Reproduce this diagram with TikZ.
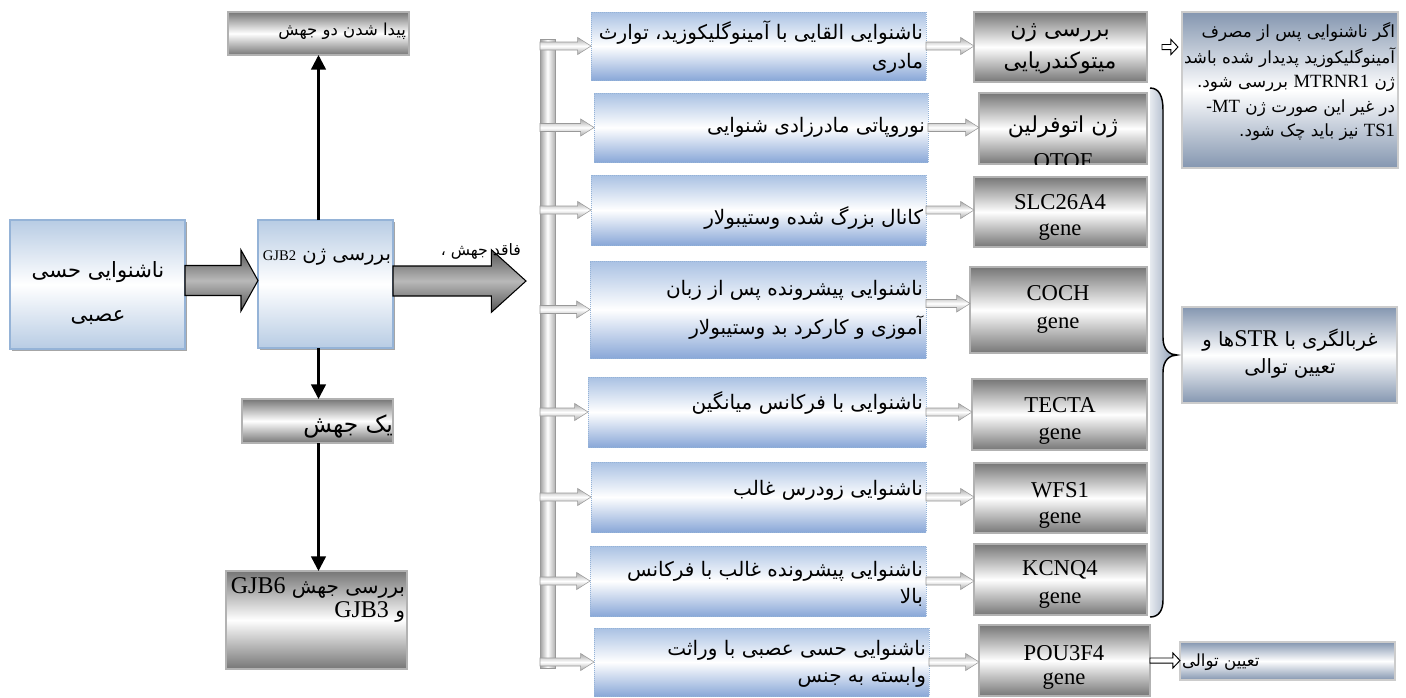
\documentclass[tikz,border=0pt]{standalone}
\usepackage{fontspec}
\setmainfont{Liberation Serif}
\newfontfamily\fa[Script=Arabic]{DejaVu Sans}
\TeXXeTstate=1
\usetikzlibrary{arrows.meta,calc,shadows}
\definecolor{lblue}{HTML}{B8CCE4}
\definecolor{mblue}{HTML}{95B3D7}
\definecolor{midtop}{HTML}{A9C1E3}
\definecolor{midbot}{HTML}{8AA8D8}
\definecolor{dgray}{HTML}{767676}
\definecolor{slate}{HTML}{8496B0}
\definecolor{agray}{HTML}{A6A6A6}
\definecolor{fgray}{HTML}{555555}
\newcommand\fz[1]{\fontsize{#1}{#1}\selectfont}
\newcommand\RR[1]{\beginR #1\endR}
\newcommand\LL[1]{\beginL{\rmfamily #1}\endL{}}
\newcommand\mkbox[6]{\node[#1, minimum width={(#5-#3)*0.75pt}, minimum height={(#6-#4)*0.75pt}] (#2) at ({(#3+#5)/2},{(#4+#6)/2}) {};}
\tikzset{
  base/.style={inner sep=0pt, outer sep=0pt},
  bluebox/.style={base, draw=mblue, line width=0.8pt, top color=lblue, bottom color=lblue, middle color=white,
     drop shadow={shadow xshift=1.5pt, shadow yshift=-1.5pt, fill=gray!70, opacity=1}},
  midbox/.style={base, draw=mblue, densely dotted, line width=0.5pt, top color=midtop, bottom color=midbot, middle color=white},
  graybox/.style={base, draw=gray!60, line width=0.8pt, top color=dgray, bottom color=dgray, middle color=white},
  slatebox/.style={base, draw=gray!40, line width=0.8pt, top color=slate, bottom color=slate, middle color=white},
  busbar/.style={base, draw=gray!80, line width=0.4pt, left color=gray!75, right color=gray!60, middle color=white},
  blk/.style n args={3}{to path={let \p1=(\tikztostart), \p2=(\tikztotarget) in
     (\x1,{\y1+#1}) -- ({\x2-#3},{\y1+#1}) -- ({\x2-#3},{\y1+#2}) -- (\x2,\y1) -- ({\x2-#3},{\y1-#2}) -- ({\x2-#3},{\y1-#1}) -- (\x1,{\y1-#1}) -- cycle}},
  fatarrow/.style={draw=black, line width=0.8pt, top color=fgray, bottom color=fgray, middle color=gray!55},
  smallarrow/.style={blk={3pt}{6.4pt}{10pt}, draw=gray!80, line width=0.4pt, top color=agray, bottom color=agray, middle color=white},
  hollow/.style={blk={1.9pt}{5.6pt}{5.3pt}, draw=black, line width=0.7pt, fill=white},
  blackarrow/.style={line width=1.8pt, -{Triangle[length=11pt,width=11pt]}},
  txt/.style={base, text=black},
  mtxt/.style={txt, anchor=east, font=\fa\fz{15}},
  gtxt/.style={txt, font=\fa\fz{16.5}},
  ltxt/.style={txt, font=\rmfamily\fz{17}},
}
\begin{document}
\begin{tikzpicture}[x=0.75pt, y=-0.75pt]
\useasboundingbox (0,0) rectangle (1406,697);

% left part
\mkbox{graybox}{top}{228}{12}{409}{55}
\mkbox{bluebox}{left}{10}{220}{185}{349}
\mkbox{bluebox}{gjb}{258}{220}{393}{348}
\mkbox{graybox}{yek}{242}{399}{393}{443}
\mkbox{graybox}{last}{226}{571}{407}{669}

\node[txt, anchor=east, font=\fa\fz{12.4}] (ttop) at (406,31) {\RR{پیدا شدن دو جهش}};
\node[txt, font=\fa\fz{15.8}] (tleft1) at (98,272) {\RR{ناشنوایی حسی}};
\node[txt, font=\fa\fz{15.8}] (tleft2) at (98,318) {\RR{عصبی}};
\node[txt, anchor=east, font=\fa\fz{14.7}] (tgjb) at (391,257) {\RR{بررسی ژن \LL{\fz{11}GJB2}}};
\node[txt, anchor=east, font=\fa\fz{17.5}] (tyek) at (393,426) {\RR{یک جهش}};
\node[txt, anchor=east, font=\fa\fz{15}] (tlast1) at (405,588) {\RR{بررسی جهش \LL{\fz{18}GJB6}}};
\node[txt, anchor=east, font=\fa\fz{15}] (tlast2) at (405,612) {\RR{و \LL{\fz{18}GJB3}}};

\coordinate (fatend) at (526,281);
\path[fatarrow, blk={11.25pt}{22.9pt}{12.75pt}] ($(left.east)+(0,-4)$) to (gjb.west);
\path[fatarrow, blk={11.25pt}{23.5pt}{26pt}] ($(gjb.east)+(0,-3)$) to (fatend);
\node[txt, anchor=east, font=\fa\fz{11.8}] (tfaqed) at (521,251) {\RR{فاقد جهش ،}};

\draw[blackarrow] (top.south |- gjb.north) -- (top.south);
\draw[blackarrow] (top.south |- gjb.south) -- (top.south |- yek.north);
\draw[blackarrow] (top.south |- yek.south) -- (top.south |- last.north);

% bus
\mkbox{busbar}{bus}{540}{39}{555}{668}

% middle boxes
\mkbox{midbox}{m1}{591}{12}{926}{80}
\mkbox{midbox}{m2}{594}{93}{928}{162}
\mkbox{midbox}{m3}{591}{175}{926}{245}
\mkbox{midbox}{m4}{590}{261}{926}{358}
\mkbox{midbox}{m5}{588}{377}{926}{447}
\mkbox{midbox}{m6}{591}{462}{926}{532}
\mkbox{midbox}{m7}{590}{546}{926}{616}
\mkbox{midbox}{m8}{594}{628}{929}{696}

\foreach \m in {m1,m2,m3,m4,m5,m6,m7,m8}{
  \path[smallarrow] (bus.west |- \m.west) to (\m.west);
}

% gene boxes
\mkbox{graybox}{g1}{974}{12}{1147}{82}
\mkbox{graybox}{g2}{979}{93}{1147}{164}
\mkbox{graybox}{g3}{974}{177}{1147}{247}
\mkbox{graybox}{g4}{970}{267}{1147}{353}
\mkbox{graybox}{g5}{972}{379}{1147}{450}
\mkbox{graybox}{g6}{974}{463}{1147}{533}
\mkbox{graybox}{g7}{974}{544}{1147}{615}
\mkbox{graybox}{g8}{979}{625}{1150}{696}

\path[smallarrow] (m1.east) to (g1.west);
\path[smallarrow] (m2.east) to (g2.west);
\path[smallarrow] (m3.east) to (g3.west);
\path[smallarrow] ($(m4.east)+(0,-6)$) to (g4.west);
\path[smallarrow] (m5.east) to (g5.west);
\path[smallarrow] (m6.east) to (g6.west);
\path[smallarrow] (m7.east) to (g7.west);
\path[smallarrow] (m8.east) to (g8.west);

% middle texts
\node[mtxt] (tm1a) at (923,33) {\RR{ناشنوایی القایی با آمینوگلیکوزید، توارث}};
\node[mtxt] (tm1b) at (923,63) {\RR{مادری}};
\node[mtxt] (tm2) at (925,127) {\RR{نوروپاتی مادرزادی شنوایی}};
\node[mtxt] (tm3) at (923,218) {\RR{کانال بزرگ شده وستیبولار}};
\node[mtxt] (tm4a) at (923,290) {\RR{ناشنوایی پیشرونده پس از زبان}};
\node[mtxt] (tm4b) at (923,328) {\RR{آموزی و کارکرد بد وستیبولار}};
\node[mtxt] (tm5) at (923,403) {\RR{ناشنوایی با فرکانس میانگین}};
\node[mtxt] (tm6) at (923,490) {\RR{ناشنوایی زودرس غالب}};
\node[mtxt] (tm7a) at (923,571) {\RR{ناشنوایی پیشرونده غالب با فرکانس}};
\node[mtxt] (tm7b) at (923,597) {\RR{بالا}};
\node[mtxt] (tm8a) at (926,650) {\RR{ناشنوایی حسی عصبی با وراثت}};
\node[mtxt] (tm8b) at (926,677) {\RR{وابسته به جنس}};

% gene texts
\node[gtxt] (tg1a) at (1060,33) {\RR{بررسی ژن}};
\node[gtxt] (tg1b) at (1060,63) {\RR{میتوکندریایی}};
\node[gtxt] (tg2a) at (1063,127) {\RR{ژن اتوفرلین}};
\begin{scope}
  \clip (g2.south west) rectangle (g2.north east);
  \node[ltxt] (tg2b) at (1063,161) {OTOF};
\end{scope}
\node[ltxt] (tg3a) at (1060,202) {SLC26A4};
\node[ltxt] (tg3b) at (1060,232) {gene};
\node[ltxt] (tg4a) at (1058,293) {COCH};
\node[ltxt] (tg4b) at (1058,325) {gene};
\node[ltxt] (tg5a) at (1060,405) {TECTA};
\node[ltxt] (tg5b) at (1060,436) {gene};
\node[ltxt] (tg6a) at (1060,490) {WFS1};
\node[ltxt] (tg6b) at (1060,520) {gene};
\node[ltxt] (tg7a) at (1060,570) {KCNQ4};
\node[ltxt] (tg7b) at (1060,600) {gene};
\node[ltxt] (tg8a) at (1064,653) {POU3F4};
\node[ltxt] (tg8b) at (1064,681) {gene};

% right column
\mkbox{slatebox}{tr}{1182}{12}{1398}{168}
\mkbox{slatebox}{str}{1182}{307}{1397}{403}
\mkbox{slatebox}{seq}{1180}{642}{1395}{680}

\path[hollow] ($(g1.east)+(15,0)$) to ($(tr.west)+(-4,0)$);
\path[hollow] (g8.east) to (seq.west);

\node[txt, anchor=east, font=\fa\fz{12.6}] (ttr1) at (1395,32) {\RR{اگر ناشنوایی پس از مصرف}};
\node[txt, anchor=east, font=\fa\fz{12.6}] (ttr2) at (1395,58) {\RR{آمینوگلیکوزید پدیدار شده باشد}};
\node[txt, anchor=east, font=\fa\fz{12.6}] (ttr3) at (1395,83) {\RR{ژن \LL{\fz{14}MTRNR1} بررسی شود.}};
\node[txt, anchor=east, font=\fa\fz{12.6}] (ttr4) at (1395,108) {\RR{در غیر این صورت ژن \LL{\fz{14}MT}-}};
\node[txt, anchor=east, font=\fa\fz{12.6}] (ttr5) at (1395,132) {\RR{\LL{\fz{14}TS1} نیز باید چک شود.}};

\node[txt, font=\fa\fz{14.7}] (tstr1) at (1290,340) {\RR{غربالگری با \LL{\fz{18}STR}ها و}};
\node[txt, font=\fa\fz{14.7}] (tstr2) at (1290,368) {\RR{تعیین توالی}};
\node[txt, anchor=west, font=\fa\fz{12.5}] (tseq) at (1182,662) {\RR{تعیین توالی}};

% brace
\fill[left color=slate!20, right color=slate] (1150,88) .. controls (1159,88) and (1163,96) .. (1163,110) -- (1163,338) .. controls (1163,350) and (1170,355) .. (1177,355) .. controls (1170,355) and (1163,360) .. (1163,372) -- (1163,600) .. controls (1163,610) and (1159,617) .. (1150,617) -- cycle;
\draw[line width=1.1pt] (1150,88) .. controls (1159,88) and (1163,96) .. (1163,110) -- (1163,338) .. controls (1163,350) and (1170,355) .. (1177,355) .. controls (1170,355) and (1163,360) .. (1163,372) -- (1163,600) .. controls (1163,610) and (1159,617) .. (1150,617);
\end{tikzpicture}
\end{document}
